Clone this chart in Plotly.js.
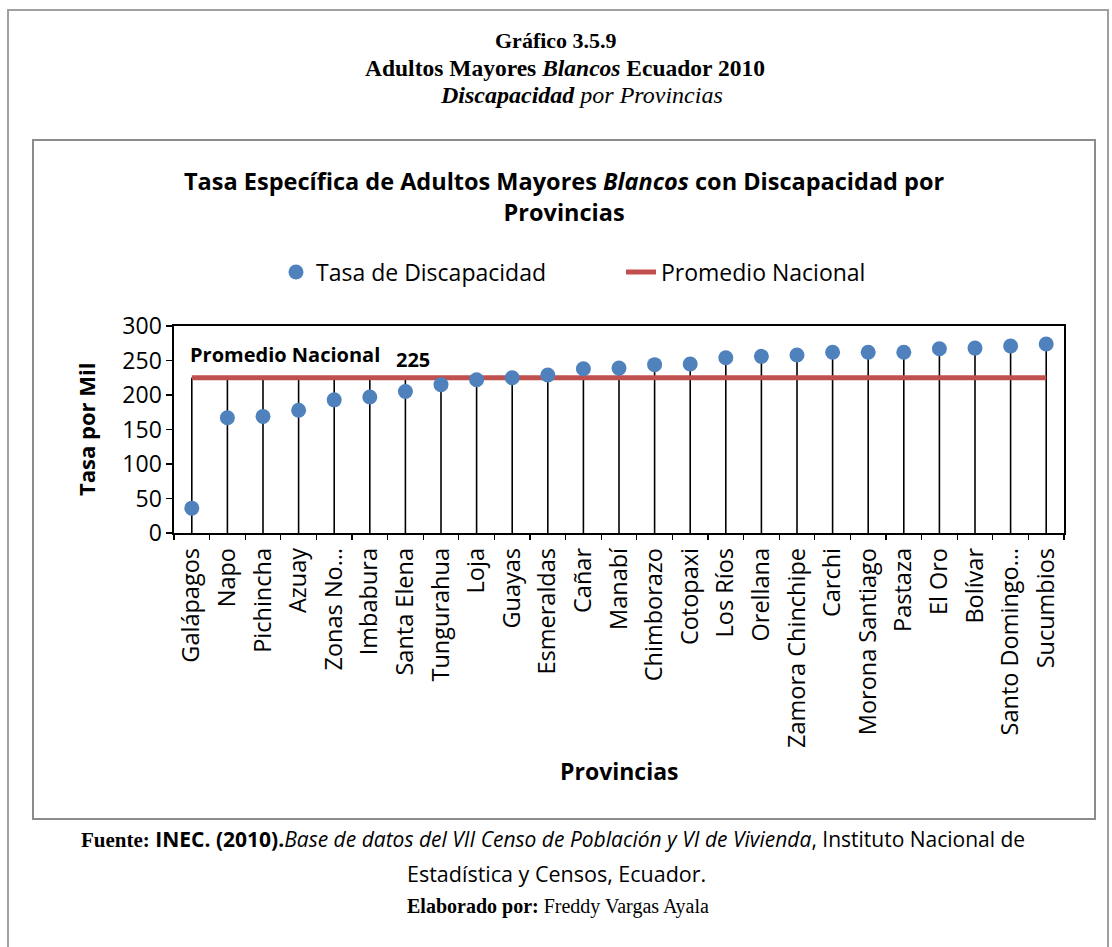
<!DOCTYPE html>
<html>
<head>
<meta charset="utf-8">
<script src="https://cdn.plot.ly/plotly-3.0.1.min.js"></script>
<style>
html,body{margin:0;padding:0;background:#fff;}
#chart{width:1112px;height:947px;}
</style>
</head>
<body>
<div id="chart"></div>
<script>
// ---- Data ----
const provincias = ["Galápagos","Napo","Pichincha","Azuay","Zonas No…","Imbabura","Santa Elena","Tungurahua","Loja","Guayas","Esmeraldas","Cañar","Manabí","Chimborazo","Cotopaxi","Los Ríos","Orellana","Zamora Chinchipe","Carchi","Morona Santiago","Pastaza","El Oro","Bolívar","Santo Domingo…","Sucumbios"];
const tasaDiscapacidad = [36,167,169,178,193,197,205,215,222,225,229,238,239,244,245,254,256,258,262,262,262,267,268,271,274];
const promedioNacional = 225;
const yTicks = [0,50,100,150,200,250,300];

// ---- Geometry helpers (pixel -> paper) ----
const W = 1112, H = 947;
const L = 174, R = 1064, T = 326, B = 533;
const px2x = p => (p - L) / (R - L);
const px2y = p => (B - p) / (B - T);

// stems from 0 to max(value, promedio)
const stemX = [], stemY = [];
provincias.forEach((p, i) => {
  stemX.push(p, p, null);
  stemY.push(0, Math.max(tasaDiscapacidad[i], promedioNacional), null);
});

const traces = [
  {type:'scatter', mode:'lines', x: stemX, y: stemY, line:{color:'#000000', width:1.6},
   showlegend:false, hoverinfo:'skip', connectgaps:false},
  {type:'scatter', mode:'lines', name:'Promedio Nacional', x: provincias,
   y: provincias.map(() => promedioNacional), line:{color:'#C0504D', width:5}, legendrank:2},
  {type:'scatter', mode:'markers', name:'Tasa de Discapacidad', x: provincias, y: tasaDiscapacidad,
   marker:{color:'#4F81BD', size:15, line:{width:0}}, legendrank:1}
];

const sans = 'Open Sans, Noto Sans, sans-serif';
const serif = 'Liberation Serif, Times New Roman, serif';

const annotations = [
  {xref:'paper', yref:'paper', x:px2x(556), y:px2y(40), text:'<b>Gráfico 3.5.9</b>', showarrow:false,
   font:{family:serif, size:22, color:'#000'}, xanchor:'center', yanchor:'middle'},
  {xref:'paper', yref:'paper', x:px2x(565), y:px2y(68), text:'<b>Adultos Mayores <i>Blancos</i> Ecuador 2010</b>', showarrow:false,
   font:{family:serif, size:23.5, color:'#000'}, xanchor:'center', yanchor:'middle'},
  {xref:'paper', yref:'paper', x:px2x(581), y:px2y(95), text:'<i><b>Discapacidad</b> por Provincias</i>', showarrow:false,
   font:{family:serif, size:24, color:'#000'}, xanchor:'center', yanchor:'middle'},
  {xref:'paper', yref:'paper', x:px2x(564), y:px2y(196), text:'<b>Tasa Específica de Adultos Mayores <i>Blancos</i> con Discapacidad por<br>Provincias</b>', showarrow:false,
   font:{family:sans, size:23.5, color:'#000'}, xanchor:'center', yanchor:'middle'},
  {xref:'x', yref:'paper', x:0, y:px2y(354), text:'<b>Promedio Nacional</b>', showarrow:false,
   font:{family:sans, size:20, color:'#000'}, xanchor:'left', yanchor:'middle', xshift:-4},
  {xref:'x', yref:'paper', x:6.2, y:px2y(359), text:'<b>225</b>', showarrow:false,
   font:{family:sans, size:20, color:'#000'}, xanchor:'center', yanchor:'middle'},
  {xref:'paper', yref:'paper', x:px2x(86), y:px2y(430), text:'<b>Tasa por Mil</b>', showarrow:false, textangle:-90,
   font:{family:sans, size:22, color:'#000'}, xanchor:'center', yanchor:'middle'},
  {xref:'paper', yref:'paper', x:px2x(619), y:px2y(771), text:'<b>Provincias</b>', showarrow:false,
   font:{family:sans, size:23, color:'#000'}, xanchor:'center', yanchor:'middle'},
  {xref:'paper', yref:'paper', x:px2x(553), y:px2y(839),
   text:'<b><span style="font-family:Liberation Serif">Fuente:</span> INEC. (2010).</b><i>Base de datos del VII Censo de Población y VI de Vivienda</i>, Instituto Nacional de',
   showarrow:false, font:{family:sans, size:21, color:'#000'}, xanchor:'center', yanchor:'middle'},
  {xref:'paper', yref:'paper', x:px2x(556), y:px2y(873), text:'Estadística y Censos, Ecuador.', showarrow:false,
   font:{family:sans, size:21.5, color:'#000'}, xanchor:'center', yanchor:'middle'},
  {xref:'paper', yref:'paper', x:px2x(558), y:px2y(906), text:'<b>Elaborado por:</b> Freddy Vargas Ayala', showarrow:false,
   font:{family:serif, size:20, color:'#000'}, xanchor:'center', yanchor:'middle'}
];

const shapes = [
  {type:'rect', xref:'paper', yref:'paper', x0:px2x(8), x1:px2x(1108), y0:px2y(10), y1:px2y(980),
   line:{color:'#A0A0A0', width:2}, fillcolor:'rgba(0,0,0,0)', layer:'below'},
  {type:'rect', xref:'paper', yref:'paper', x0:px2x(33), x1:px2x(1095), y0:px2y(140), y1:px2y(819),
   line:{color:'#8C8C8C', width:2}, fillcolor:'rgba(0,0,0,0)', layer:'below'}
];

const layout = {
  width: W, height: H,
  margin: {l:L, r:W-R, t:T, b:H-B, pad:0},
  paper_bgcolor:'#ffffff', plot_bgcolor:'#ffffff',
  font:{family:sans, color:'#000'},
  showlegend:true,
  legend:{orientation:'h', x:px2x(276), xanchor:'left', y:px2y(272), yanchor:'middle',
          entrywidth:300, entrywidthmode:'pixels',
          font:{family:sans, size:23, color:'#000'}, bgcolor:'rgba(0,0,0,0)', traceorder:'normal'},
  xaxis:{type:'category', categoryorder:'array', categoryarray:provincias, range:[-0.5, provincias.length-0.5],
         tickangle:-90, tickfont:{family:sans, size:23.5, color:'#000'}, ticklabelstandoff:4,
         showline:true, linecolor:'#000', linewidth:1.6, mirror:true,
         ticks:'outside', tickson:'boundaries', ticklen:5, tickcolor:'#000', tickwidth:1.2,
         showgrid:false, zeroline:false, automargin:false, fixedrange:true},
  yaxis:{range:[0,300], tickmode:'array', tickvals:yTicks, ticktext:yTicks.map(String),
         tickfont:{family:sans, size:23, color:'#000'},
         showline:true, linecolor:'#000', linewidth:1.6, mirror:true,
         ticks:'outside', ticklen:6, tickcolor:'#000', tickwidth:1.2,
         showgrid:false, zeroline:false, automargin:false, fixedrange:true},
  annotations: annotations,
  shapes: shapes
};

Plotly.newPlot('chart', traces, layout, {displayModeBar:false, staticPlot:true});
</script>
</body>
</html>
